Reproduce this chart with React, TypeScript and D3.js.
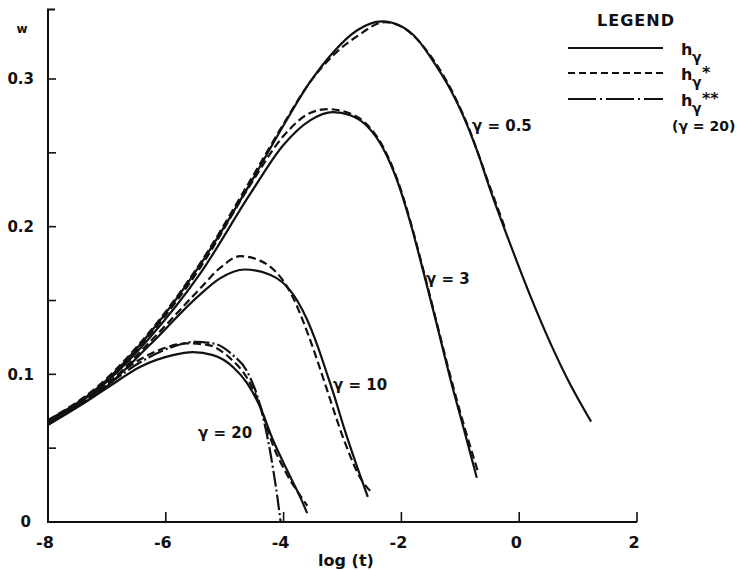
import React from 'react';
import * as d3 from 'd3';

// x = log(t), y = w
const X_TICKS = [-8, -6, -4, -2, 0, 2];
const Y_TICKS = [0, 0.05, 0.1, 0.15, 0.2, 0.25, 0.3];
const Y_LABELS = [0, 0.1, 0.2, 0.3];

// h_gamma (solid)
const H_05 = [[-8, 0.069], [-7.12, 0.092], [-6.27, 0.128], [-5.42, 0.174], [-4.57, 0.229], [-4.01, 0.268], [-3.55, 0.298], [-3.16, 0.318], [-2.75, 0.333], [-2.33, 0.339], [-2.02, 0.336], [-1.73, 0.327], [-1.51, 0.315], [-1.17, 0.293], [-0.95, 0.275], [-0.72, 0.252], [-0.5, 0.226], [-0.16, 0.189], [0.18, 0.154], [0.52, 0.122], [0.83, 0.096], [1.22, 0.068]];
const H_3 = [[-8, 0.068], [-7.12, 0.091], [-6.27, 0.125], [-5.42, 0.168], [-4.57, 0.222], [-4.01, 0.255], [-3.55, 0.272], [-3.16, 0.2776], [-2.87, 0.2755], [-2.58, 0.268], [-2.31, 0.253], [-2.07, 0.231], [-1.85, 0.203], [-1.63, 0.17], [-1.4, 0.134], [-1.17, 0.097], [-0.92, 0.06], [-0.72, 0.03]];
const H_10 = [[-8, 0.068], [-7.12, 0.088], [-6.27, 0.12], [-5.42, 0.154], [-5.08, 0.165], [-4.66, 0.171], [-4.23, 0.1675], [-4.01, 0.162], [-3.77, 0.15], [-3.6, 0.137], [-3.43, 0.12], [-3.26, 0.1], [-3.16, 0.088], [-2.96, 0.062], [-2.74, 0.036], [-2.57, 0.017]];
const H_20 = [[-8, 0.0657], [-7.58, 0.0758], [-7.0, 0.0907], [-6.44, 0.105], [-5.88, 0.113], [-5.54, 0.115], [-5.2, 0.113], [-4.86, 0.105], [-4.62, 0.094], [-4.4, 0.078], [-4.18, 0.0555], [-3.94, 0.035], [-3.72, 0.017], [-3.6, 0.006]];

// h_gamma* (dashed)
const HS_05 = [[-8, 0.069], [-7.12, 0.093], [-6.27, 0.129], [-5.42, 0.175], [-4.57, 0.231], [-4.01, 0.269], [-3.55, 0.298], [-3.16, 0.316], [-2.75, 0.329], [-2.28, 0.3385], [-1.94, 0.334], [-1.51, 0.316], [-0.92, 0.273], [-0.47, 0.224], [-0.24, 0.199]];
const HS_3 = [[-8, 0.068], [-7.12, 0.092], [-6.27, 0.127], [-5.42, 0.172], [-4.57, 0.228], [-4.01, 0.261], [-3.55, 0.277], [-3.25, 0.2796], [-2.87, 0.2766], [-2.58, 0.269], [-2.31, 0.254], [-2.07, 0.232], [-1.85, 0.204], [-1.63, 0.171], [-1.4, 0.135], [-1.17, 0.099], [-0.92, 0.063], [-0.7, 0.034]];
const HS_10 = [[-8, 0.068], [-7.12, 0.089], [-6.27, 0.122], [-5.42, 0.158], [-5.08, 0.172], [-4.74, 0.18], [-4.4, 0.177], [-4.23, 0.173], [-4.0, 0.163], [-3.84, 0.152], [-3.64, 0.133], [-3.45, 0.112], [-3.3, 0.094], [-2.96, 0.054], [-2.7, 0.03], [-2.53, 0.021]];
const HS_20 = [[-8, 0.067], [-7.58, 0.078], [-7.0, 0.094], [-6.44, 0.11], [-6.01, 0.118], [-5.64, 0.121], [-5.3, 0.12], [-4.91, 0.111], [-4.62, 0.0975], [-4.4, 0.079], [-4.18, 0.052], [-3.94, 0.032], [-3.72, 0.018], [-3.6, 0.011]];

// h_gamma** for gamma = 20 (dash-dot)
const HSS_20 = [[-8, 0.067], [-7.58, 0.077], [-7.0, 0.0927], [-6.44, 0.108], [-5.93, 0.118], [-5.5, 0.122], [-5.2, 0.121], [-4.86, 0.113], [-4.62, 0.102], [-4.4, 0.079], [-4.23, 0.048], [-4.11, 0.018], [-4.05, 0]];

const GAMMA_LABELS = [
  { text: 'γ = 0.5', x: 472, y: 131 },
  { text: 'γ = 3', x: 426, y: 284 },
  { text: 'γ = 10', x: 333, y: 390 },
  { text: 'γ = 20', x: 198, y: 438 },
];

const W = 741;
const H = 570;
const FONT = '"DejaVu Sans", Arial, sans-serif';
const INK = '#111';
const DASH = '8 4';
const DASHDOT = '16 3 2 3';

export default function App() {
  const x = d3.scaleLinear().domain([-8, 2]).range([48, 637]);
  const y = d3.scaleLinear().domain([0, 0.3]).range([522, 79]);
  const line = d3.line<number[]>()
    .x(d => x(d[0]))
    .y(d => y(d[1]))
    .curve(d3.curveMonotoneX);

  const curves = [
    { data: H_05, dash: undefined },
    { data: H_3, dash: undefined },
    { data: H_10, dash: undefined },
    { data: H_20, dash: undefined },
    { data: HS_05, dash: DASH },
    { data: HS_3, dash: DASH },
    { data: HS_10, dash: DASH },
    { data: HS_20, dash: DASH },
    { data: HSS_20, dash: DASHDOT },
  ];

  const yTop = 0.347;
  const legendRows = [
    { y: 48, dash: undefined, stars: '' },
    { y: 73, dash: '7 4', stars: '*' },
    { y: 99, dash: '28 4 2 4', stars: '**' },
  ];

  return (
    <svg width={W} height={H} style={{ position: 'absolute', left: 0, top: 0, background: '#fff' }}
      fontFamily={FONT} fontWeight="bold" fill={INK}>
      {/* axes */}
      <path d={`M${x(-8) + 7},${y(yTop)}H${x(-8)}V${y(0)}H${x(2)}`}
        fill="none" stroke={INK} strokeWidth={2} />
      {Y_TICKS.slice(1).map(t => (
        <line key={'yt' + t} x1={x(-8)} x2={x(-8) + 8} y1={y(t)} y2={y(t)} stroke={INK} strokeWidth={1.6} />
      ))}
      {X_TICKS.slice(1).map(t => (
        <line key={'xt' + t} x1={x(t)} x2={x(t)} y1={y(0)} y2={y(0) - 10} stroke={INK} strokeWidth={1.6} />
      ))}
      {Y_LABELS.map(t => (
        <text key={'yl' + t} x={t === 0 ? 31 : 34} y={y(t)} dy="0.36em" textAnchor="end" fontSize={15}>{String(t)}</text>
      ))}
      {X_TICKS.map(t => (
        <text key={'xl' + t} x={x(t) - 3} y={548} textAnchor="middle" fontSize={16}>{t < 0 ? '-' + Math.abs(t) : String(t)}</text>
      ))}
      <text x={22} y={33} textAnchor="middle" fontSize={12}>w</text>
      <text x={346} y={566} textAnchor="middle" fontSize={16}>log (t)</text>

      {/* curves */}
      {curves.map((c, i) => (
        <path key={'c' + i} d={line(c.data) || ''} fill="none" stroke={INK} strokeWidth={2.2}
          strokeDasharray={c.dash} />
      ))}

      {GAMMA_LABELS.map(g => (
        <text key={g.text} x={g.x} y={g.y} fontSize={15}>{g.text}</text>
      ))}

      {/* legend */}
      <text x={636} y={26} textAnchor="middle" fontSize={16} letterSpacing={1}>LEGEND</text>
      {legendRows.map(r => (
        <g key={'lg' + r.y}>
          <line x1={568} x2={663} y1={r.y} y2={r.y} stroke={INK} strokeWidth={2} strokeDasharray={r.dash} />
          <text x={681} y={r.y + 7} fontSize={16}>h</text>
          <text x={692} y={r.y + 14} fontSize={14}>γ</text>
          {r.stars && <text x={702} y={r.y + 5} fontSize={16}>{r.stars}</text>}
        </g>
      ))}
      <text x={672} y={131} fontSize={14}>(γ = 20)</text>
    </svg>
  );
}
